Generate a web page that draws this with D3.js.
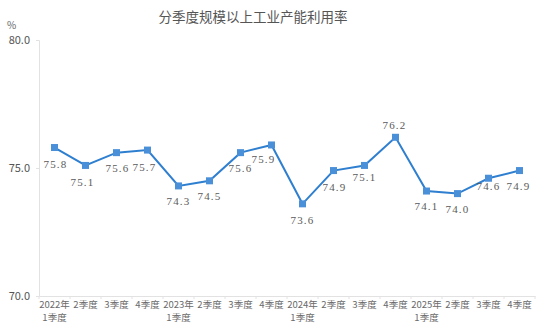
<!DOCTYPE html>
<html><head><meta charset="utf-8">
<script src="https://cdn.jsdelivr.net/npm/d3@7"></script>
<style>body{margin:0;background:#fff}svg{display:block}</style>
</head><body>
<script>
const categories = ["2022年\n1季度","2季度","3季度","4季度","2023年\n1季度","2季度","3季度","4季度","2024年\n1季度","2季度","3季度","4季度","2025年\n1季度","2季度","3季度","4季度"];
const values = [75.8,75.1,75.6,75.7,74.3,74.5,75.6,75.9,73.6,74.9,75.1,76.2,74.1,74.0,74.6,74.9];
const yTicks = [70,75,80];
const title = "分季度规模以上工业产能利用率";
const unit = "%";
// label placement (layout only)
const labelOffsets = [[1,16],[-3,17],[1,15],[-3,17],[0,15],[0,15],[0,15],[-8,14],[0,16],[1,16],[0,12],[-1,-12],[0,15],[0,15],[0,8],[-1,15]];

const W=542,H=333;
const svg=d3.select("body").append("svg").attr("width",W).attr("height",H);
const x=d3.scaleBand().domain(d3.range(categories.length)).range([39,535]);
const y=d3.scaleLinear().domain([70,80]).range([296,40]);
const fontSans="'Noto Sans CJK SC','Noto Sans',sans-serif";

svg.append("text").attr("x",253).attr("y",22).attr("text-anchor","middle")
  .attr("font-family",fontSans).attr("font-size",13.5).attr("fill","#555").text(title);
svg.append("text").attr("x",7).attr("y",29).attr("font-family",fontSans).attr("font-size",10).attr("fill","#666").text(unit);

// y axis
const ya=svg.append("g").attr("transform","translate(39,0)").call(d3.axisLeft(y).tickValues(yTicks).tickFormat(d3.format(".1f")).tickSize(3).tickPadding(6));
ya.select(".domain").attr("stroke","#e2e2e2");
ya.selectAll(".tick line").attr("stroke","#e2e2e2");
ya.selectAll(".tick text").attr("font-family",fontSans).attr("font-size",11).attr("fill","#555");

// x axis
const xa=svg.append("g").attr("transform","translate(0,296)").call(d3.axisBottom(x).tickSize(0).tickFormat(""));
xa.select(".domain").attr("stroke","#e2e2e2");
const bounds=d3.range(categories.length+1).map(i=>39+i*x.step());
svg.append("g").selectAll("line").data(bounds).join("line")
  .attr("x1",d=>d).attr("x2",d=>d).attr("y1",296).attr("y2",299).attr("stroke","#e2e2e2");
const xl=svg.append("g").selectAll("text").data(categories).join("text")
  .attr("x",(d,i)=>x(i)+x.bandwidth()/2).attr("y",308).attr("text-anchor","middle")
  .attr("font-family",fontSans).attr("font-size",9.5).attr("fill","#6a6a6a");
xl.each(function(d){
  const t=d3.select(this);
  d.split("\n").forEach((s,k)=>t.append("tspan").attr("x",t.attr("x")).attr("dy",k?13:0).text(s));
});

// line
const cx=i=>x(i)+x.bandwidth()/2;
svg.append("path").datum(values).attr("fill","none").attr("stroke","#2f7fd0").attr("stroke-width",2)
  .attr("d",d3.line().x((d,i)=>cx(i)).y(d=>y(d)));
svg.append("g").selectAll("rect").data(values).join("rect")
  .attr("x",(d,i)=>cx(i)-3.5).attr("y",d=>y(d)-3.5).attr("width",7).attr("height",7).attr("fill","#4a90d9");
svg.append("g").selectAll("text").data(values).join("text")
  .attr("x",(d,i)=>cx(i)+labelOffsets[i][0]).attr("y",(d,i)=>y(d)+labelOffsets[i][1]+4)
  .attr("text-anchor","middle").attr("font-family","'Liberation Serif','DejaVu Serif',serif")
  .attr("font-size",11).attr("fill","#5a5a5a").attr("letter-spacing",1.2).text(d=>d.toFixed(1));
</script>
</body></html>
